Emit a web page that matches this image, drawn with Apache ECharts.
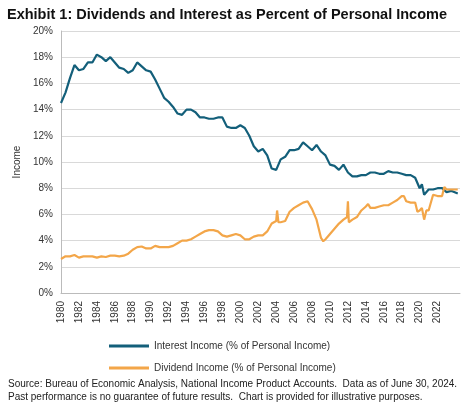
<!DOCTYPE html>
<html><head><meta charset="utf-8">
<script src="https://cdn.jsdelivr.net/npm/echarts@6/dist/echarts.min.js"></script>
<style>body{margin:0;background:#fff}#c{width:474px;height:412px}</style>
</head><body><div id="c"></div>
<script>
var interestYears = [1980,1980.5,1981,1981.5,1982,1982.5,1983,1983.5,1984,1984.5,1985,1985.5,1986,1986.5,1987,1987.5,1988,1988.5,1989,1989.5,1990,1990.5,1991,1991.5,1992,1992.5,1993,1993.5,1994,1994.5,1995,1995.5,1996,1996.5,1997,1997.5,1998,1998.5,1999,1999.5,2000,2000.5,2001,2001.5,2002,2002.5,2003,2003.5,2004,2004.5,2005,2005.5,2006,2006.5,2007,2007.5,2008,2008.5,2009,2009.5,2010,2010.5,2011,2011.5,2012,2012.5,2013,2013.5,2014,2014.5,2015,2015.5,2016,2016.5,2017,2017.5,2018,2018.5,2019,2019.5,2020,2020.25,2020.5,2021,2021.5,2022,2022.5,2023,2023.5,2024.25];
var interestVals = [14.5,15.3,16.4,17.4,17.0,17.1,17.6,17.6,18.2,18.0,17.7,18.0,17.6,17.2,17.1,16.8,17.0,17.6,17.3,17.0,16.9,16.3,15.6,14.9,14.6,14.2,13.7,13.6,14.0,14.0,13.8,13.4,13.4,13.3,13.3,13.4,13.4,12.7,12.6,12.6,12.8,12.6,12.0,11.2,10.8,11.0,10.5,9.5,9.4,10.2,10.4,10.9,10.9,11.0,11.5,11.2,10.9,11.3,10.8,10.5,9.8,9.7,9.4,9.8,9.2,8.9,8.9,9.0,9.0,9.2,9.2,9.1,9.1,9.3,9.2,9.2,9.1,9.0,9.0,8.8,8.0,8.3,7.5,7.9,7.9,8.0,8.0,7.7,7.8,7.6];
var dividendYears = [1980,1980.5,1981,1981.5,1982,1982.5,1983,1983.5,1984,1984.5,1985,1985.5,1986,1986.5,1987,1987.5,1988,1988.5,1989,1989.5,1990,1990.5,1991,1991.5,1992,1992.5,1993,1993.5,1994,1994.5,1995,1995.5,1996,1996.5,1997,1997.5,1998,1998.5,1999,1999.5,2000,2000.5,2001,2001.5,2002,2002.5,2003,2003.5,2004,2004.1,2004.25,2004.5,2005,2005.5,2006,2006.5,2007,2007.5,2008,2008.5,2009,2009.25,2009.5,2010,2010.5,2011,2011.5,2011.9,2012,2012.1,2012.5,2013,2013.5,2014,2014.25,2014.5,2015,2015.5,2016,2016.5,2017,2017.5,2018,2018.25,2018.5,2019,2019.5,2019.75,2020,2020.25,2020.5,2020.75,2021,2021.5,2022,2022.5,2022.75,2023,2023.5,2024.25];
var dividendVals = [2.6,2.8,2.8,2.9,2.7,2.8,2.8,2.8,2.7,2.8,2.75,2.85,2.85,2.8,2.85,3.0,3.3,3.5,3.55,3.4,3.4,3.6,3.5,3.5,3.5,3.6,3.8,4.0,4.0,4.1,4.3,4.5,4.7,4.8,4.8,4.7,4.4,4.3,4.4,4.5,4.4,4.1,4.1,4.3,4.4,4.4,4.7,5.3,5.5,6.3,5.4,5.4,5.5,6.2,6.5,6.7,6.9,7.0,6.4,5.6,4.2,3.95,4.1,4.5,4.9,5.3,5.6,5.8,7.0,5.4,5.6,5.8,6.3,6.6,6.8,6.5,6.5,6.6,6.7,6.7,6.9,7.1,7.4,7.4,7.0,6.9,6.9,6.2,6.3,6.5,5.6,6.3,6.3,7.5,7.4,7.4,8.1,7.9,7.9,7.9];
var seriesNames = ['Interest Income (% of Personal Income)', 'Dividend Income (% of Personal Income)'];

function pairs(xs, ys) {
	return xs.map(function(x, i) { return [x, ys[i]]; });
}

var chart = echarts.init(document.getElementById('c'));
chart.setOption({
	animation: false,
	title: {
		text: 'Exhibit 1: Dividends and Interest as Percent of Personal Income',
		left: 2, top: 2,
		textStyle: {fontFamily: 'Arial, Liberation Sans', fontSize: 14.5, fontWeight: 'bold', color: '#111'}
	},
	graphic: [{
		type: 'text', left: 8, top: 378,
		style: {
			text: 'Source: Bureau of Economic Analysis, National Income Product Accounts.  Data as of June 30, 2024.\nPast performance is no guarantee of future results.  Chart is provided for illustrative purposes.',
			font: '10px Arial, Liberation Sans', fill: '#222', lineHeight: 13
		}
	}],
	legend: {
		orient: 'vertical', left: 104, top: 336, itemGap: 12,
		itemWidth: 40, itemHeight: 3,
		icon: 'rect',
		textStyle: {fontFamily: 'Arial, Liberation Sans', fontSize: 10, color: '#333'},
		data: seriesNames
	},
	grid: {left: 61, right: 14, top: 31, bottom: 119},
	xAxis: {
		type: 'value', min: 1980, max: 2024.5, interval: 2,
		axisLine: {lineStyle: {color: '#bbb'}},
		axisTick: {show: false},
		splitLine: {show: false},
		axisLabel: {rotate: 90, fontSize: 10, color: '#333', fontFamily: 'Arial, Liberation Sans',
			formatter: function(v) { return v % 2 === 0 && v <= 2022 ? String(v) : ''; }}
	},
	yAxis: {
		type: 'value', min: 0, max: 20, interval: 2,
		name: 'Income', nameLocation: 'middle', nameGap: 34,
		nameTextStyle: {fontSize: 10, color: '#333', fontFamily: 'Arial, Liberation Sans'},
		axisLine: {show: true, lineStyle: {color: '#bbb'}},
		axisTick: {show: false},
		splitLine: {lineStyle: {color: '#d9d9d9'}},
		axisLabel: {fontSize: 10, color: '#333', fontFamily: 'Arial, Liberation Sans', formatter: '{value}%'}
	},
	series: [{
		name: seriesNames[0], type: 'line', showSymbol: false,
		lineStyle: {width: 2.2, color: '#135f7a'}, itemStyle: {color: '#135f7a'},
		data: pairs(interestYears, interestVals)
	}, {
		name: seriesNames[1], type: 'line', showSymbol: false,
		lineStyle: {width: 2.2, color: '#f3a649'}, itemStyle: {color: '#f3a649'},
		data: pairs(dividendYears, dividendVals)
	}]
});
</script></body></html>
